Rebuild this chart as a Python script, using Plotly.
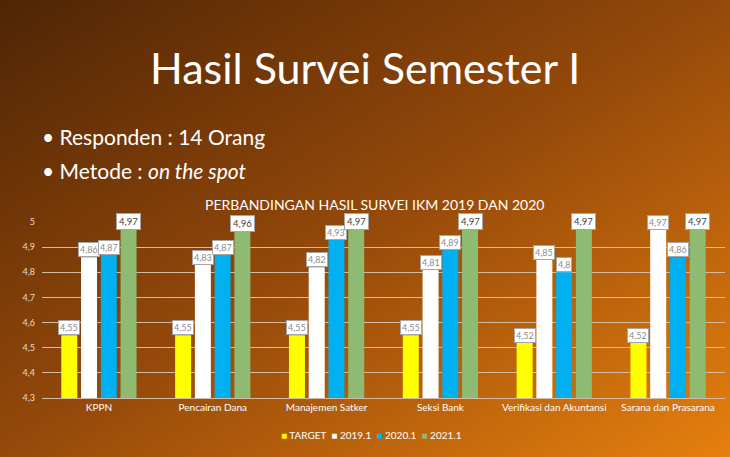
import base64

import plotly.graph_objects as go

# data
categories = [
    "KPPN",
    "Pencairan Dana",
    "Manajemen Satker",
    "Seksi Bank",
    "Verifikasi dan Akuntansi",
    "Sarana dan Prasarana",
]
target = [4.55, 4.55, 4.55, 4.55, 4.52, 4.52]
s2019 = [4.86, 4.83, 4.82, 4.81, 4.85, 4.97]
s2020 = [4.87, 4.87, 4.93, 4.89, 4.80, 4.86]
s2021 = [4.97, 4.96, 4.97, 4.97, 4.97, 4.97]

series_names = ["TARGET", "2019.1", "2020.1", "2021.1"]
series_values = [target, s2019, s2020, s2021]
series_colors = ["#FFFF00", "#FFFFFF", "#00B0F0", "#8FBA72"]

FONT = "Lato"

# slide background: diagonal brown -> orange gradient as an svg image
svg = (
    '<svg xmlns="http://www.w3.org/2000/svg" width="730" height="457" '
    'preserveAspectRatio="none">'
    '<defs><linearGradient id="g" x1="0" y1="0" x2="1" y2="1">'
    '<stop offset="0" stop-color="#4f2505"/>'
    '<stop offset="0.5" stop-color="#95490a"/>'
    '<stop offset="1" stop-color="#e6800e"/>'
    "</linearGradient></defs>"
    '<rect width="730" height="457" fill="url(#g)"/></svg>'
)
bg_src = "data:image/svg+xml;base64," + base64.b64encode(svg.encode()).decode()

fig = go.Figure()
for name, vals, color in zip(series_names, series_values, series_colors):
    fig.add_trace(go.Bar(name=name, x=categories, y=vals, marker_color=color,
                         marker_line_width=0))

# value labels in white boxes on top of each bar
slot = 19.75
annotations = []
for i, vals in enumerate(series_values):
    last = i == len(series_values) - 1
    for cat, v in zip(categories, vals):
        annotations.append(dict(
            x=cat, y=v, xref="x", yref="y",
            text=f"{v:g}".replace(".", ","),
            showarrow=False, yanchor="bottom", xshift=(i - 1.5) * slot,
            bgcolor="#FFFFFF", bordercolor="#A6A6A6", borderwidth=1,
            borderpad=2 if last else 1,
            font=dict(family=FONT, size=9.5 if last else 9,
                      color="#404040" if last else "#8C8C8C"),
        ))

# compact legend drawn as one line of text
legend_text = "  ".join(
    f"<span style='color:{c}'>■</span> {n}"
    for n, c in zip(series_names, series_colors)
)

# slide texts
annotations += [
    dict(x=0.473, y=1.88, xref="paper", yref="paper", showarrow=False,
         yanchor="middle", text="Hasil Survei Semester I",
         font=dict(family=FONT, size=43, color="#FFFFFF")),
    dict(x=-0.003, y=1.483, xref="paper", yref="paper", showarrow=False,
         xanchor="left", yanchor="middle", text="• Responden : 14 Orang",
         font=dict(family=FONT, size=21, color="#FFFFFF")),
    dict(x=-0.003, y=1.29, xref="paper", yref="paper", showarrow=False,
         xanchor="left", yanchor="middle", text="• Metode : <i>on the spot</i>",
         font=dict(family=FONT, size=21, color="#FFFFFF")),
    dict(x=0.487, y=1.102, xref="paper", yref="paper", showarrow=False,
         yanchor="middle", text="PERBANDINGAN HASIL SURVEI IKM 2019 DAN 2020",
         font=dict(family=FONT, size=14, color="#FFFFFF")),
    dict(x=0.483, y=-0.21, xref="paper", yref="paper", showarrow=False,
         yanchor="middle", text=legend_text,
         font=dict(family=FONT, size=10, color="#FFFFFF")),
]

fig.update_layout(
    width=730, height=457,
    margin=dict(l=42, r=5, t=222, b=59),
    paper_bgcolor="#8a430a",
    plot_bgcolor="rgba(0,0,0,0)",
    separators=",.",
    barmode="group", bargap=0.306, bargroupgap=0.19,
    showlegend=False,
    images=[dict(source=bg_src, xref="paper", yref="paper", x=-42 / 683,
                 y=1 + 222 / 176, sizex=730 / 683, sizey=457 / 176,
                 xanchor="left", yanchor="top", sizing="stretch", layer="below")],
    annotations=annotations,
    font=dict(family=FONT, color="#FFFFFF"),
)
fig.update_xaxes(showgrid=False, showline=True, linecolor="#D2BBA2", linewidth=1,
                 ticks="", tickfont=dict(family=FONT, size=10, color="#FFFFFF"),
                 fixedrange=True)
fig.update_yaxes(range=[4.3, 5.0], dtick=0.1, showgrid=True, gridcolor="#D2BBA2",
                 gridwidth=1, zeroline=False, showline=False,
                 tickfont=dict(family=FONT, size=9, color="#E8DDD2"),
                 ticklabelstandoff=6, fixedrange=True)

# drop the browser's default page margin so the figure fills the window
fig.write_html("out.html", config={"displayModeBar": False},
               post_script="document.body.style.margin='0';")
